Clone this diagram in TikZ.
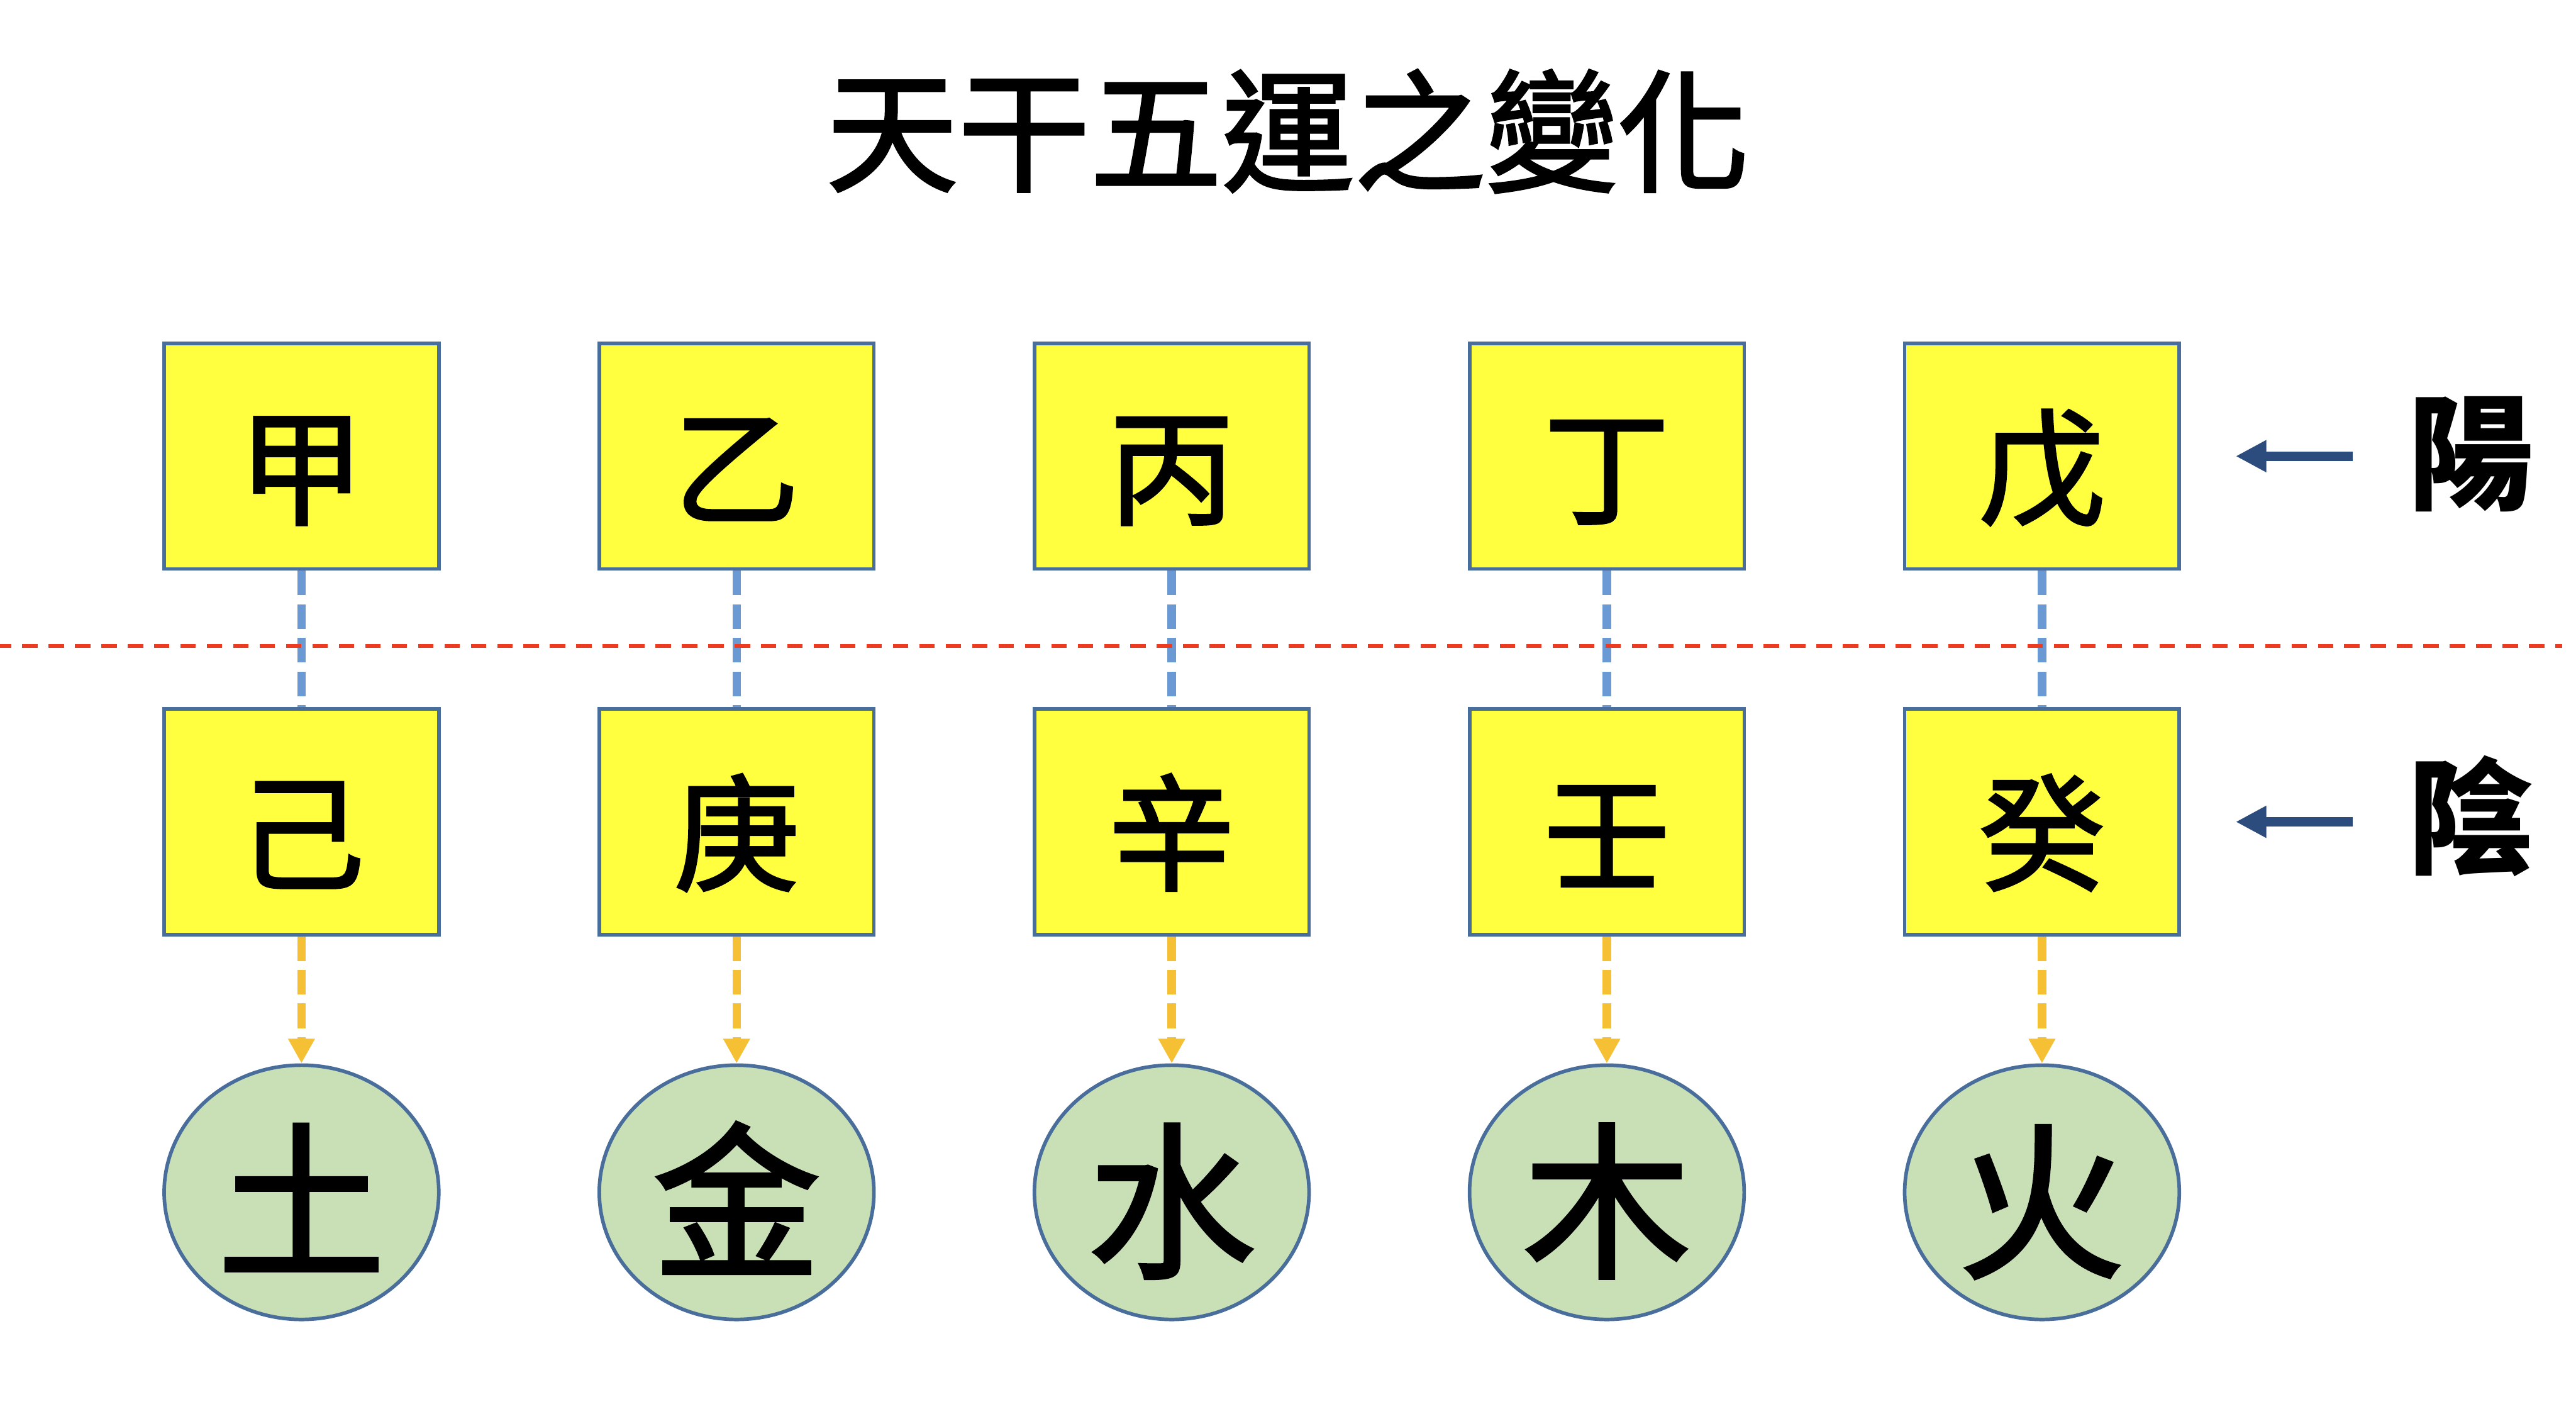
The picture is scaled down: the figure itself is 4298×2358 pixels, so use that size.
\documentclass[tikz,border=0pt]{standalone}
\usepackage{fontspec}
\newfontfamily\cjk{Noto Sans CJK TC}
\newfontfamily\kai{Noto Sans CJK TC}[FakeBold=2]
\usetikzlibrary{arrows.meta, shapes.geometric}
\definecolor{ganfill}{HTML}{FFFF40}
\definecolor{yunfill}{HTML}{C9E0B6}
\definecolor{boxline}{HTML}{4A6E9B}
\definecolor{pairline}{HTML}{6A99D3}
\definecolor{hualine}{HTML}{F5C033}
\definecolor{midred}{HTML}{EF3A1F}
\definecolor{arrowline}{HTML}{2C4C7E}

\begin{document}
\begin{tikzpicture}[x=0.01cm, y=-0.01cm,
  every node/.style={inner sep=0pt},
  gan/.style={draw=boxline, line width=0.06cm, fill=ganfill, minimum width=4.58cm, minimum height=3.76cm, text height=1.96cm, text depth=0cm, font=\kai\fontsize{2.1cm}{2.1cm}\selectfont},
  yun/.style={ellipse, draw=boxline, line width=0.06cm, fill=yunfill, minimum width=4.58cm, minimum height=4.24cm, text height=2.42cm, text depth=0cm, font=\kai\fontsize{2.8cm}{2.8cm}\selectfont},
  pairlink/.style={draw=pairline, line width=0.14cm, dash pattern=on 0.41cm off 0.15cm},
  hualink/.style={draw=hualine, line width=0.14cm, dash pattern=on 0.41cm off 0.15cm, -{Triangle[length=0.41cm, width=0.42cm]}},
  pointer/.style={draw=arrowline, line width=0.16cm, -{Triangle[length=0.51cm, width=0.5cm]}, shorten <=0.91cm, shorten >=0.91cm},
  yylabel/.style={font=\cjk\bfseries\fontsize{2.1cm}{2.1cm}\selectfont}]
  \useasboundingbox (0,0) rectangle (4298,2358);
  \node[font=\kai\fontsize{2.2cm}{2.2cm}\selectfont] (title) at (2149,219) {天干五運之變化};
  \node[gan] (jia) at (503,761) {甲};
  \node[gan] (yi) at (1229,761) {乙};
  \node[gan] (bing) at (1955,761) {丙};
  \node[gan] (ding) at (2681,761) {丁};
  \node[gan] (wu) at (3407,761) {戊};
  \node[gan] (ji) at (503,1371) {己};
  \node[gan] (geng) at (1229,1371) {庚};
  \node[gan] (xin) at (1955,1371) {辛};
  \node[gan] (ren) at (2681,1371) {壬};
  \node[gan] (gui) at (3407,1371) {癸};
  \node[yun] (tu) at (503,1989) {土};
  \node[yun] (jin) at (1229,1989) {金};
  \node[yun] (shui) at (1955,1989) {水};
  \node[yun] (mu) at (2681,1989) {木};
  \node[yun] (huo) at (3407,1989) {火};
  \draw[pairlink] (jia.south) -- (ji.north);
  \draw[pairlink] (yi.south) -- (geng.north);
  \draw[pairlink] (bing.south) -- (xin.north);
  \draw[pairlink] (ding.south) -- (ren.north);
  \draw[pairlink] (wu.south) -- (gui.north);
  \draw[midred, line width=0.06cm, dash pattern=on 0.256cm off 0.184cm, dash phase=0.07cm] (0,1078) -- (4275,1078);
  \draw[hualink] (ji.south) -- (tu.north);
  \draw[hualink] (geng.south) -- (jin.north);
  \draw[hualink] (xin.south) -- (shui.north);
  \draw[hualink] (ren.south) -- (mu.north);
  \draw[hualink] (gui.south) -- (huo.north);
  \node[yylabel] (yang) at (4122,758) {陽};
  \node[yylabel] (yin) at (4122,1361) {陰};
  \draw[pointer] (wu.east -| yang.west) -- (wu.east);
  \draw[pointer] (gui.east -| yin.west) -- (gui.east);
\end{tikzpicture}
\end{document}
